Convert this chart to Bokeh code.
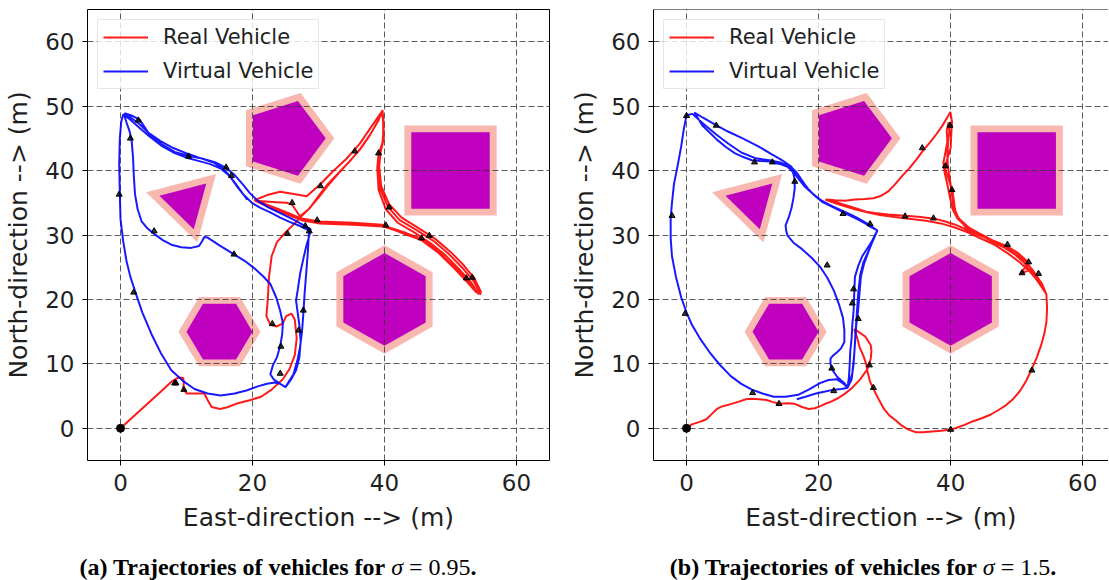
import math
from bokeh.plotting import figure
from bokeh.models import Range1d, FixedTicker, Legend, LegendItem, Span, Div
from bokeh.layouts import row, column
from bokeh.embed import file_html
from bokeh.resources import INLINE

# ---------------- data ----------------
x_ticks = [0, 20, 40, 60]
y_ticks = [0, 10, 20, 30, 40, 50, 60]
series_names = ["Real Vehicle", "Virtual Vehicle"]
sigma_values = ["0.95", "1.5"]
panel_tags = ["(a)", "(b)"]

# obstacles: centre, circumradius, number of sides, rotation (deg), safety margin
obs_cx = [25, 50, 10, 40, 15]
obs_cy = [45, 40, 35, 20, 15]
obs_r = [6.1, 8.4, 4.24, 7.2, 5.0]
obs_n = [5, 4, 3, 6, 6]
obs_rot = [0, 45, 45, 90, 0]
obs_margin = 1.05

# ---- panel (a): sigma = 0.95 ----
real_a = [
    (0, 0), (1.5, 1.4), (3, 2.8), (4.5, 4.2), (6, 5.6), (7.8, 7.3), (8.8, 7.9), (9.5, 7.8), (9.6, 7.1), (9.5, 6.2),
    (10, 5.4), (11.3, 5.4), (12.7, 5.4), (13.2, 4.4), (13.8, 3.3), (15.1, 3.0), (16.3, 3.3), (17.5, 3.8), (19.7, 4.4),
    (21.3, 4.9), (22.9, 6), (24.6, 7.6), (25.6, 9.2), (26.4, 11.3), (26.7, 14), (26.4, 16.9), (25.9, 17.8), (25.1, 17.4),
    (24.6, 16.3), (23.7, 15.8), (22.7, 16.1), (22.1, 17.4), (22.3, 19.8), (22.5, 23.5), (22.9, 26.7), (23.7, 28.9),
    (25.1, 30.5), (26.4, 31.8), (27.2, 32.7), (28.7, 34.2), (30.2, 36.3), (31.5, 38.0), (33, 39.6), (34.7, 41.4),
    (36.4, 43.5), (37.9, 45.7), (39, 47.6), (39.7, 49.4),
    (39.8, 47.3), (39.8, 44.6), (39.1, 42.6), (38.9, 40.4), (39.1, 37), (40.2, 34), (42, 31.9), (44.5, 30.4),
    (47, 28.7), (49.3, 26.8), (51.2, 24.8), (53, 22.8), (54.3, 20.8),
    (53.5, 21.6), (52.3, 23.2), (50.3, 25.3), (47.8, 27.8), (45.3, 29.5), (43.3, 30.3), (41.2, 31), (39.7, 31.6),
    (35.2, 31.9), (30.2, 32.1), (27.2, 32.6), (25.5, 33.4), (23.5, 34.2), (21.7, 34.9), (20.3, 35.4),
    (22.2, 36.2), (24.2, 36.7), (26.7, 36.3), (28.2, 36), (30.2, 37.8), (32.2, 39.9), (34.2, 41.8), (36.2, 44.1),
    (38.2, 47.1), (39.7, 49.3),
    (39.9, 47), (39.7, 44.4), (39.2, 42.4), (39.1, 40.2), (39.3, 37.3), (40.5, 34.4), (42.3, 32.3), (44.8, 30.8),
    (47.4, 29.1), (49.8, 27), (51.7, 25), (53.4, 23), (54.5, 21),
    (53.8, 21.2), (52.6, 22.6), (50.6, 24.8), (48.1, 27.3), (45.6, 29.2), (43.5, 30), (41.4, 30.8), (39.8, 31.3),
    (35.2, 31.6), (30.2, 31.8), (27.4, 32.3), (25.2, 33.2), (23.2, 34), (21.5, 34.8), (20.4, 35.3),
    (22, 35.2), (23.6, 35.1), (25.2, 35), (26, 34.7), (26.6, 33.8), (27.2, 32.9), (28.5, 34.0), (30, 35.8),
    (31.3, 37.5), (32.8, 39.3), (34.5, 41.2), (36.3, 43.3), (37.8, 45.5), (39, 47.7), (39.6, 49.2),
    (39.8, 47.6), (39.9, 45), (39.4, 42.8), (39.2, 40.6), (39.5, 37.6), (40.7, 34.8), (42.6, 32.7), (45.1, 31.1),
    (47.7, 29.4), (50.1, 27.3), (52, 25.3), (53.6, 23.3), (54.6, 21.2), (54.5, 20.7),
]
virtual_a = [
    (19.2, 35.5), (18.2, 36.9), (17.2, 38.3), (16.2, 39.6), (15.2, 40.5), (14.2, 41.2), (12.2, 41.9), (10.2, 42.6),
    (8, 43.5), (6, 44.6), (4.2, 45.9), (2.9, 47.2), (1.6, 48.2), (0.5, 48.8),
    (0.9, 47.5), (1.4, 46), (1.7, 44.5), (1.9, 42), (2.0, 39.5), (2.2, 36.3), (2.6, 34), (3.2, 32.1), (4.1, 31),
    (5.2, 30.1), (6.4, 29.2), (7.7, 28.5), (9.2, 28.1), (10.7, 28), (11.9, 28.3), (12.4, 29.1), (12.7, 29.7),
    (13.2, 29.6), (15, 28.4), (17.2, 27), (18.8, 26), (20.2, 24.9), (21.6, 23.6), (22.7, 22.4), (23.6, 20.3),
    (24.2, 18.2), (24.6, 16.3), (24.5, 14.6), (24.2, 12.8), (23.7, 11), (23.1, 9.8), (22.7, 8.4), (23.2, 7.6),
    (24.2, 6.9), (25, 6.4),
    (26.2, 8.4), (26.8, 10.5), (27.2, 12.6), (27.5, 15), (27.7, 17.7), (27.9, 21), (28.2, 24.9), (28.4, 27.5),
    (28.5, 29.6), (28.6, 30.7),
    (27.2, 31.4), (25.7, 32), (24.2, 32.7), (22.7, 33.5), (21.2, 34.2), (19.9, 35), (18.7, 36.2), (17.6, 37.6),
    (16.5, 39.2), (15.2, 40.3), (13.6, 41), (11.8, 41.5), (10, 42), (8.2, 42.7), (6.3, 43.8), (4.5, 45.2),
    (2.9, 46.6), (1.5, 47.9), (0.4, 48.7),
    (0.1, 47.5), (-0.1, 45), (-0.2, 41), (-0.1, 36.3), (0, 32.5), (0.4, 29.1), (0.9, 26), (1.5, 23.5), (2.2, 21.3),
    (3.3, 18), (4.7, 14.6), (6.1, 11.7), (7.7, 9), (9.4, 7.4), (11.2, 6.1), (13.2, 5.4), (15.2, 5.1), (17.3, 5.4),
    (19.2, 5.9), (20.8, 6.5), (22.2, 6.9), (23.4, 7.1), (24.2, 6.9), (25, 6.4),
    (25.8, 7.5), (26.6, 9), (27.1, 11), (27.3, 13.5), (27.1, 16), (26.8, 18.3), (26.6, 19.8), (26.9, 21.8),
    (27.2, 23.9), (27.7, 26.3), (28.2, 28.5), (28.7, 30.2), (28.8, 30.9),
    (27.6, 31.6), (26, 32.5), (24.2, 33.4), (22.4, 34.3), (20.8, 35.3), (19.6, 36.5), (18.5, 37.9), (17.3, 39.3),
    (16, 40.4), (14.3, 41.3), (12.2, 41.9), (10.2, 42.3), (8.2, 42.9), (6.2, 44.1), (4.4, 45.6), (2.9, 47.9),
    (1.8, 48.5), (0.6, 48.9),
]
arrows_real_a = [(8.2, 7.0), (9.6, 6.0), (23.0, 16.2), (24.2, 8.5), (25.3, 30.2), (26.0, 35.0), (30.3, 37.6),
                 (35.5, 43.0), (39.1, 42.7), (40.7, 34.3), (40.2, 31.5), (29.8, 32.3), (45.6, 29.5), (46.8, 29.9),
                 (52.4, 23.3), (53.3, 23.4)]
arrows_virtual_a = [(1.5, 45.0), (-0.2, 36.3), (2.0, 21.1), (5.1, 30.6), (10.3, 42.2), (17.2, 27.0), (16.0, 40.5),
                    (16.8, 39.2), (24.3, 12.7), (27.0, 15.2), (27.7, 18.3), (28.6, 30.6), (2.7, 47.8), (28.0, 31.4),
                    (8.4, 7.0)]

# ---- panel (b): sigma = 1.5 ----
real_b = [
    (0, 0), (0.8, 0.6), (2, 1.0), (3, 1.4), (3.8, 2.2), (4.6, 3.0), (5.4, 3.4), (6.2, 3.6), (7.8, 4.1), (9, 4.5),
    (9.9, 4.6), (11, 4.5), (12.1, 4.4), (13, 4.1), (14, 3.8), (15.3, 3.9), (16.4, 3.8), (17.5, 3.3), (18.5, 3.0),
    (19.4, 3.1), (20.2, 3.4), (21, 3.8), (21.8, 4.1), (23, 4.7), (23.9, 5.3), (25, 6.2), (26.3, 7.6), (27.4, 9.2),
    (27.9, 10.8), (28, 12), (27.9, 12.9), (27.1, 14.2), (26, 15), (25.4, 15.4),
    (25.8, 14.2), (26.2, 12.6), (26.8, 11.2), (27.2, 10), (27.4, 8.8), (27.8, 7.2), (28.5, 5.7), (29.2, 4.3),
    (29.9, 3), (30.7, 2), (31.7, 1.2), (32.6, 0.4), (33.6, -0.2), (34.7, -0.6), (35.8, -0.6), (37.2, -0.5),
    (38.6, -0.4), (40, -0.2), (40.7, 0), (42, 0.5), (43.4, 1.1), (44.8, 1.6), (46, 2.1), (47.2, 2.8), (48.4, 3.6),
    (49.5, 4.6), (50.5, 5.8), (51.4, 7.3), (52.2, 9), (53, 10.9), (53.7, 12.9), (54.2, 14.8), (54.5, 16.5),
    (54.6, 18.6), (54.5, 20.8),
    (53.6, 22.2), (52.6, 23.6), (51.2, 25.6), (49.7, 27), (48.2, 28), (46.6, 28.9), (45.2, 29.6), (43.6, 30.3),
    (42.1, 31), (40.7, 31.6), (39.2, 32.1), (37.7, 32.5), (35.5, 32.8), (33.2, 33), (30.5, 33.2), (28.5, 33.4),
    (27.2, 33.6), (25.5, 34.2), (23.5, 34.8), (22, 35.3), (21.2, 35.5),
    (22.5, 35.4), (24, 35.3), (25.5, 35.5), (27, 35.6), (28.3, 35.7), (29.5, 36.1), (30.6, 36.8), (31.6, 37.9),
    (32.6, 39.1), (33.7, 40.3), (34.8, 41.7), (35.9, 43.2), (36.9, 44.4), (37.8, 45.6), (38.7, 46.9), (39.4, 48.1),
    (39.95, 49.1),
    (40.2, 47.6), (40.1, 45.8), (40, 43.5), (39.4, 41.5), (39.2, 40.2), (39.7, 38.6), (40.3, 36.7), (40.6, 34.4),
    (40.8, 33.2), (42.2, 31.3), (43.6, 30.4), (45.2, 29.6), (46.8, 28.7), (48.2, 28), (49.8, 27), (51.2, 26),
    (52.3, 24.7), (53.2, 23.4), (54, 22), (54.5, 20.8),
    (53.2, 22.8), (51.9, 24.6), (50.7, 24.0), (51.5, 25.5), (50.2, 26.8), (48.5, 27.9), (46.8, 28.9), (45, 29.9),
    (43.3, 30.8), (41.9, 31.7), (41, 32.6), (40.3, 34), (39.9, 35.8), (39.5, 37.8), (39.1, 39.6), (38.9, 41.2),
    (39.2, 42.8), (39.5, 44.5), (39.4, 46.2), (39.7, 47.5),
    (39.8, 46), (39.6, 44.3), (39.5, 42.3), (39.6, 40.5), (39.9, 38.5), (40.2, 36.2), (40.5, 34.2), (41.2, 32.6),
    (42.7, 31.2), (44.6, 30.1), (46.5, 29.1), (48.4, 28.3), (50.2, 27.2), (51.5, 26), (52.4, 24.3), (53, 23.6),
    (53.8, 22.5), (54.5, 20.8),
    (53.4, 22.6), (52, 24.3), (50.4, 25.8), (48.6, 27.2), (46.6, 28.5), (44.5, 29.5), (42.4, 30.5), (40.5, 31.2),
    (38.5, 31.8), (36.3, 32.2), (34, 32.5), (31.5, 32.8), (29.3, 33.1), (27.5, 33.5), (25.5, 34), (23.5, 34.6),
    (22, 35.1), (21, 35.5),
]
virtual_b = [
    (16.7, 4.5), (18, 4.9), (19.6, 5.4), (21, 5.7), (22.3, 6.0), (23.5, 6.1), (24.4, 6.3),
    (24.6, 8), (24.7, 9.7), (24.8, 12), (25, 14), (25.1, 16), (25.3, 18.2), (25.4, 21), (25.5, 23.5), (26, 25.2),
    (26.6, 26.7), (27.3, 27.8), (28, 28.9), (28.5, 29.9), (28.9, 30.7),
    (27.8, 31.3), (26.6, 32.1), (25, 32.9), (23.4, 33.7), (21.8, 34.6), (20.2, 35.5), (19, 36.5), (18, 37.4),
    (17.2, 38.4), (16.4, 39.5), (15.3, 40.6), (14, 41.1), (12.6, 41.4), (11.2, 41.5), (9.9, 41.6), (8.6, 42.1),
    (7.3, 42.7), (5.9, 43.7), (4.6, 44.8), (3.5, 45.9), (2.4, 47), (1.2, 49),
    (2.5, 48.2), (4.2, 47.2), (6.2, 46.1), (8.5, 45), (10.8, 43.8), (12.8, 42.6), (14.5, 41.6), (15.9, 40.6),
    (16.3, 39), (16.4, 37.4), (16.2, 35.8), (15.9, 34.2), (15.5, 32.8), (15, 31.5), (15.1, 30.6), (15.3, 29.9),
    (16.2, 28.8), (17.5, 27.8), (18.9, 26.5), (20.2, 25.1), (21.3, 23.4), (22.3, 21.4), (23.1, 19.2), (23.7, 17.1),
    (23.9, 15.2), (23.9, 13.4), (23.4, 12.4), (22.8, 11.8), (22.2, 11.3), (21.8, 10.8), (21.8, 10), (22, 9.2),
    (22.8, 8), (23.9, 7.0), (24.4, 6.3),
    (25, 7.6), (25.3, 10), (25.5, 13), (25.7, 16), (26, 18.5), (26.2, 21), (26.4, 23.5), (26.9, 25.6), (27.7, 27.8),
    (28.4, 29.6), (28.9, 30.7),
    (27.5, 31.7), (25.8, 32.7), (24, 33.6), (22.2, 34.4), (20.5, 35.3), (19.2, 36.3), (18.3, 37.3), (17.4, 38.6),
    (16.6, 39.8), (15.8, 40.6), (14.4, 41.2), (12.6, 41.6), (10.5, 41.9), (8.3, 42.8), (6.3, 44.2), (4.5, 45.6),
    (2.5, 47.3), (0.9, 48.8), (0, 48.6),
    (-0.4, 46.5), (-0.8, 43.8), (-1.3, 41), (-1.9, 37.9), (-2.2, 35), (-2.4, 32.6), (-2.4, 29.5), (-2.2, 26.7),
    (-1.6, 23.5), (-0.8, 20.3), (0, 18), (0.8, 16.1), (2, 14), (3.5, 11.8), (5, 9.9), (6.7, 8.1), (8.3, 6.9),
    (9.9, 6.0), (11.5, 5.4), (13.2, 4.9), (15, 4.9), (16.9, 5.2), (18.5, 6), (20.2, 7.0), (21.5, 7.5), (22.8, 7.6),
    (23.8, 6.9), (24.4, 6.3),
    (25.1, 8.5), (25.4, 11.5), (25.6, 15), (25.8, 18), (26, 21), (26.3, 23.8), (26.8, 25.8), (27.6, 27.6),
    (28.3, 29.3), (28.9, 30.7),
    (27.6, 31.5), (26, 32.4), (24.2, 33.3), (22.4, 34.2), (20.6, 35.1), (19.3, 36.2), (18.4, 37.2), (17.5, 38.4),
    (16.8, 39.5), (15.9, 40.4), (14.8, 40.9), (13, 41.2),
]
arrows_real_b = [(14, 3.8), (35.7, 43.5), (39.9, 47), (39.2, 40.7), (40.2, 37), (33.1, 32.9), (37.4, 32.6),
                 (48.6, 28.5), (51.8, 25.8), (50.8, 24.1), (53.3, 24), (52.3, 9), (40, -0.2), (27.7, 9.8),
                 (28.3, 6.3)]
arrows_virtual_b = [(0, 48.5), (-2.2, 33), (-0.2, 17.8), (10, 5.5), (4.5, 47), (10.3, 41.3), (13, 41.3),
                    (16.4, 38.3), (21.3, 25.3), (25.3, 21.6), (25.1, 19.4), (26, 17), (22, 9.3), (22.3, 5.8),
                    (23.7, 33.3), (27.8, 31.7)]
start_point = [(0, 0)]

# ---------------- styling ----------------
FONT = "DejaVu Sans"
TXT = "#1f1f1f"
MAGENTA = "#bf00bf"
PINK = "#f8b8b0"
FIG_H = 556


def polygon(cx, cy, r, n, rot):
    xs, ys = [], []
    for k in range(n):
        a = math.radians(rot + 360.0 * k / n)
        xs.append(cx + r * math.cos(a))
        ys.append(cy + r * math.sin(a))
    return xs, ys


def unzip(pts):
    return [p[0] for p in pts], [p[1] for p in pts]


def make_panel(real, virtual, arr_r, arr_v, width, x_end, min_left, min_right, full_outline):
    p = figure(width=width, height=FIG_H, x_range=Range1d(-5, x_end), y_range=Range1d(-5, 65),
               output_backend="svg", toolbar_location=None,
               min_border_left=min_left, min_border_right=min_right,
               min_border_top=9, min_border_bottom=FIG_H - 460)
    p.background_fill_color = "white"
    p.border_fill_color = "white"
    if full_outline:
        p.outline_line_color = "black"
        p.outline_line_width = 1
    else:
        p.outline_line_color = None
        p.add_layout(Span(location=65, dimension="width", line_color="black", line_width=1))

    # obstacles (below grid)
    outer_xs, outer_ys, inner_xs, inner_ys = [], [], [], []
    for cx, cy, r, n, rot in zip(obs_cx, obs_cy, obs_r, obs_n, obs_rot):
        ro = r + obs_margin / math.cos(math.pi / n)
        ox, oy = polygon(cx, cy, ro, n, rot)
        ix, iy = polygon(cx, cy, r, n, rot)
        outer_xs.append(ox); outer_ys.append(oy)
        inner_xs.append(ix); inner_ys.append(iy)
    p.patches(outer_xs, outer_ys, fill_color=PINK, line_color=None, level="image")
    p.patches(inner_xs, inner_ys, fill_color=MAGENTA, line_color=None, level="image")

    # trajectories
    rx, ry = unzip(real)
    vx, vy = unzip(virtual)
    r_line = p.line(rx, ry, line_color="#ff0000", line_width=2, line_alpha=0.9)
    v_line = p.line(vx, vy, line_color="#0000ff", line_width=2, line_alpha=0.9)

    ax, ay = unzip(arr_r + arr_v)
    p.scatter(ax, ay, marker="triangle", size=6, fill_color="black", line_color="black", fill_alpha=0.8)
    sx, sy = unzip(start_point)
    p.scatter(sx, sy, marker="circle", size=8, fill_color="black", line_color="black")

    # grid
    for g in (p.xgrid, p.ygrid):
        g.grid_line_color = "#333333"
        g.grid_line_alpha = 0.8
        g.grid_line_dash = "6 3"
        g.grid_line_width = 1
        g.level = "underlay"
    p.xgrid.ticker = FixedTicker(ticks=x_ticks)
    p.ygrid.ticker = FixedTicker(ticks=y_ticks)

    # axes
    p.xaxis.ticker = FixedTicker(ticks=x_ticks)
    p.yaxis.ticker = FixedTicker(ticks=y_ticks)
    p.xaxis.axis_label = "East-direction --> (m)"
    p.yaxis.axis_label = "North-direction --> (m)"
    for axis in (p.xaxis, p.yaxis):
        axis.axis_line_color = None if full_outline else "black"
        axis.major_tick_line_color = "black"
        axis.major_tick_out = 5
        axis.major_tick_in = 0
        axis.minor_tick_line_color = None
        axis.major_label_text_font = FONT
        axis.major_label_text_font_size = "23px"
        axis.major_label_text_color = TXT
        axis.major_label_standoff = 8
        axis.axis_label_text_font = FONT
        axis.axis_label_text_font_size = "25px"
        axis.axis_label_text_font_style = "normal"
        axis.axis_label_text_color = TXT
        axis.axis_label_standoff = 9

    legend = Legend(items=[LegendItem(label=series_names[0], renderers=[r_line]),
                           LegendItem(label=series_names[1], renderers=[v_line])],
                    location="top_left")
    legend.label_text_font = FONT
    legend.label_text_font_size = "21px"
    legend.label_text_color = TXT
    legend.glyph_width = 45
    legend.glyph_height = 24
    legend.label_height = 24
    legend.label_standoff = 15
    legend.spacing = 10
    legend.padding = 5
    legend.margin = 10
    legend.border_line_color = "#cccccc"
    legend.border_line_width = 1
    legend.background_fill_color = "white"
    legend.background_fill_alpha = 0.8
    p.add_layout(legend)
    return p


p1 = make_panel(real_a, virtual_a, arrows_real_a, arrows_virtual_a, 553, 65, 87, 4, True)
p2 = make_panel(real_b, virtual_b, arrows_real_b, arrows_virtual_b, 555, 63.9, 100, 0, False)


def caption(tag, sig):
    return ('<b>%s Trajectories of vehicles for</b> <i>&sigma;</i> = %s<b>.</b>' % (tag, sig))


cap_html = (
    '<div style="font-family:\'Liberation Serif\',serif;font-size:24px;line-height:22px;'
    'white-space:nowrap;color:#000;">'
    '<span style="display:inline-block;width:556px;text-align:center;">' + caption(panel_tags[0], sigma_values[0]) +
    '</span><span style="display:inline-block;width:524px;margin-left:45px;text-align:center;">' +
    caption(panel_tags[1], sigma_values[1]) + '</span></div>'
)
cap = Div(text=cap_html, width=1108, height=24, margin=(0, 0, 0, 0))

layout = column(row(p1, p2, spacing=0), cap, spacing=0)
open("out.html", "w").write(file_html(layout, INLINE))
